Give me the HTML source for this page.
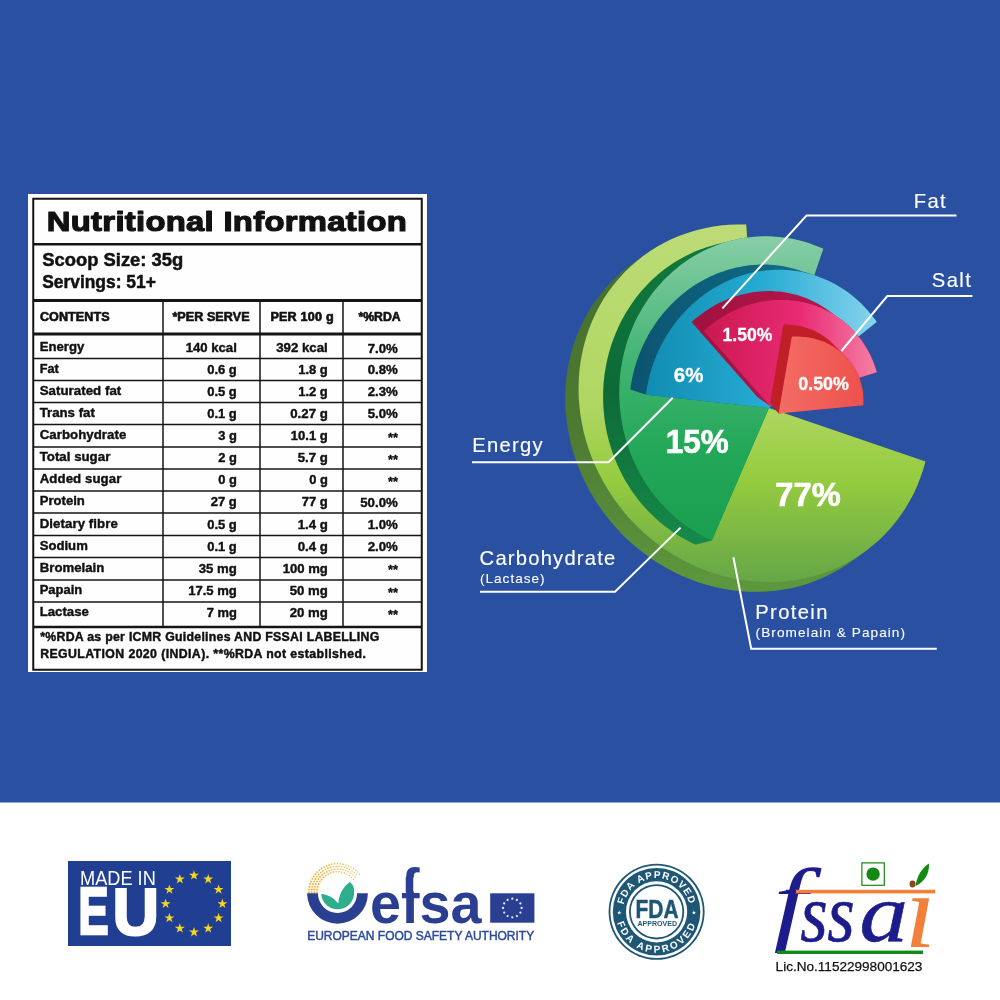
<!DOCTYPE html>
<html lang="en"><head><meta charset="utf-8"><title>Nutritional Information</title>
<style>
html,body{margin:0;padding:0;background:#fff;}
body{width:1000px;height:1000px;overflow:hidden;position:relative;font-family:"Liberation Sans",sans-serif;}
svg{position:absolute;left:0;top:0;display:block}
text{font-family:"Liberation Sans",sans-serif}
.b{font-weight:bold}
</style></head><body>
<svg width="1000" height="1000" viewBox="0 0 1000 1000">
<rect x="0" y="0" width="1000" height="802.5" fill="#2a51a1"/>
<rect x="28" y="194" width="399" height="478" fill="#fff"/>
<rect x="33.25" y="198.75" width="388.5" height="471" fill="#fefefe" stroke="#151515" stroke-width="2"/>
<line x1="33" y1="244.2" x2="422" y2="244.2" stroke="#151515" stroke-width="2.5"/>
<line x1="33" y1="300.5" x2="422" y2="300.5" stroke="#151515" stroke-width="2.8"/>
<line x1="33" y1="334" x2="422" y2="334" stroke="#151515" stroke-width="2.8"/>
<line x1="33" y1="627" x2="422" y2="627" stroke="#151515" stroke-width="2.6"/>
<line x1="33" y1="358.5" x2="422" y2="358.5" stroke="#151515" stroke-width="1.35"/>
<line x1="33" y1="380.5" x2="422" y2="380.5" stroke="#151515" stroke-width="1.35"/>
<line x1="33" y1="402.5" x2="422" y2="402.5" stroke="#151515" stroke-width="1.35"/>
<line x1="33" y1="424.5" x2="422" y2="424.5" stroke="#151515" stroke-width="1.35"/>
<line x1="33" y1="447" x2="422" y2="447" stroke="#151515" stroke-width="1.35"/>
<line x1="33" y1="469" x2="422" y2="469" stroke="#151515" stroke-width="1.35"/>
<line x1="33" y1="491" x2="422" y2="491" stroke="#151515" stroke-width="1.35"/>
<line x1="33" y1="513" x2="422" y2="513" stroke="#151515" stroke-width="1.35"/>
<line x1="33" y1="535.5" x2="422" y2="535.5" stroke="#151515" stroke-width="1.35"/>
<line x1="33" y1="557.5" x2="422" y2="557.5" stroke="#151515" stroke-width="1.35"/>
<line x1="33" y1="580" x2="422" y2="580" stroke="#151515" stroke-width="1.35"/>
<line x1="33" y1="602" x2="422" y2="602" stroke="#151515" stroke-width="1.35"/>
<line x1="163" y1="300.5" x2="163" y2="627" stroke="#151515" stroke-width="1.5"/>
<line x1="260" y1="300.5" x2="260" y2="627" stroke="#151515" stroke-width="1.5"/>
<line x1="343" y1="300.5" x2="343" y2="627" stroke="#151515" stroke-width="1.5"/>
<text transform="translate(46.8,230.7) scale(1.18,1)" font-size="27.8" font-weight="bold" fill="#111" textLength="305.08" lengthAdjust="spacing" stroke="#111" stroke-width="1.2" stroke-linejoin="round">Nutritional Information</text>
<text transform="translate(42.2,265.7) scale(1.08,1)" font-size="18.0" font-weight="bold" fill="#111" textLength="130.65" lengthAdjust="spacingAndGlyphs" stroke="#111" stroke-width="0.5" stroke-linejoin="round">Scoop Size: 35g</text>
<text transform="translate(42.2,287.8) scale(1.08,1)" font-size="18.0" font-weight="bold" fill="#111" textLength="105.19" lengthAdjust="spacingAndGlyphs" stroke="#111" stroke-width="0.5" stroke-linejoin="round">Servings: 51+</text>
<text transform="translate(39.9,321.3) scale(1.06,1)" font-size="11.9" font-weight="bold" fill="#111" textLength="65.75" lengthAdjust="spacing" stroke="#111" stroke-width="0.6" stroke-linejoin="round">CONTENTS</text>
<text transform="translate(172.4,321.3) scale(1.06,1)" font-size="11.9" font-weight="bold" fill="#111" textLength="72.83" lengthAdjust="spacing" stroke="#111" stroke-width="0.6" stroke-linejoin="round">*PER SERVE</text>
<text transform="translate(270.4,321.3) scale(1.06,1)" font-size="11.9" font-weight="bold" fill="#111" textLength="59.62" lengthAdjust="spacing" stroke="#111" stroke-width="0.6" stroke-linejoin="round">PER 100 g</text>
<text transform="translate(358.4,321.3) scale(1.06,1)" font-size="11.9" font-weight="bold" fill="#111" textLength="39.81" lengthAdjust="spacingAndGlyphs" stroke="#111" stroke-width="0.6" stroke-linejoin="round">*%RDA</text>
<text transform="translate(39.7,351.4) scale(1.06,1)" font-size="12.5" font-weight="bold" fill="#111" textLength="42.08" lengthAdjust="spacingAndGlyphs" stroke="#111" stroke-width="0.4" stroke-linejoin="round">Energy</text>
<text transform="translate(185.7,352.0) scale(1.06,1)" font-size="12.5" font-weight="bold" fill="#111" textLength="48.21" lengthAdjust="spacingAndGlyphs" stroke="#111" stroke-width="0.4" stroke-linejoin="round">140 kcal</text>
<text transform="translate(276.2,352.29999999999995) scale(1.06,1)" font-size="12.5" font-weight="bold" fill="#111" textLength="48.68" lengthAdjust="spacing" stroke="#111" stroke-width="0.4" stroke-linejoin="round">392 kcal</text>
<text transform="translate(367.7,352.9) scale(1.06,1)" font-size="12.5" font-weight="bold" fill="#111" textLength="28.40" lengthAdjust="spacingAndGlyphs" stroke="#111" stroke-width="0.4" stroke-linejoin="round">7.0%</text>
<text transform="translate(39.7,372.9) scale(1.06,1)" font-size="12.5" font-weight="bold" fill="#111" textLength="18.02" lengthAdjust="spacingAndGlyphs" stroke="#111" stroke-width="0.4" stroke-linejoin="round">Fat</text>
<text transform="translate(207.2,373.5) scale(1.06,1)" font-size="12.5" font-weight="bold" fill="#111" textLength="27.92" lengthAdjust="spacingAndGlyphs" stroke="#111" stroke-width="0.4" stroke-linejoin="round">0.6 g</text>
<text transform="translate(298.2,373.79999999999995) scale(1.06,1)" font-size="12.5" font-weight="bold" fill="#111" textLength="27.92" lengthAdjust="spacingAndGlyphs" stroke="#111" stroke-width="0.4" stroke-linejoin="round">1.8 g</text>
<text transform="translate(367.7,374.4) scale(1.06,1)" font-size="12.5" font-weight="bold" fill="#111" textLength="28.40" lengthAdjust="spacingAndGlyphs" stroke="#111" stroke-width="0.4" stroke-linejoin="round">0.8%</text>
<text transform="translate(39.7,394.9) scale(1.06,1)" font-size="12.5" font-weight="bold" fill="#111" textLength="76.98" lengthAdjust="spacing" stroke="#111" stroke-width="0.4" stroke-linejoin="round">Saturated fat</text>
<text transform="translate(207.2,395.5) scale(1.06,1)" font-size="12.5" font-weight="bold" fill="#111" textLength="27.92" lengthAdjust="spacingAndGlyphs" stroke="#111" stroke-width="0.4" stroke-linejoin="round">0.5 g</text>
<text transform="translate(298.2,395.79999999999995) scale(1.06,1)" font-size="12.5" font-weight="bold" fill="#111" textLength="27.92" lengthAdjust="spacingAndGlyphs" stroke="#111" stroke-width="0.4" stroke-linejoin="round">1.2 g</text>
<text transform="translate(367.7,396.4) scale(1.06,1)" font-size="12.5" font-weight="bold" fill="#111" textLength="28.40" lengthAdjust="spacingAndGlyphs" stroke="#111" stroke-width="0.4" stroke-linejoin="round">2.3%</text>
<text transform="translate(39.7,416.9) scale(1.06,1)" font-size="12.5" font-weight="bold" fill="#111" textLength="51.98" lengthAdjust="spacingAndGlyphs" stroke="#111" stroke-width="0.4" stroke-linejoin="round">Trans fat</text>
<text transform="translate(207.2,417.5) scale(1.06,1)" font-size="12.5" font-weight="bold" fill="#111" textLength="27.92" lengthAdjust="spacingAndGlyphs" stroke="#111" stroke-width="0.4" stroke-linejoin="round">0.1 g</text>
<text transform="translate(290.2,417.79999999999995) scale(1.06,1)" font-size="12.5" font-weight="bold" fill="#111" textLength="35.47" lengthAdjust="spacing" stroke="#111" stroke-width="0.4" stroke-linejoin="round">0.27 g</text>
<text transform="translate(367.7,418.4) scale(1.06,1)" font-size="12.5" font-weight="bold" fill="#111" textLength="28.40" lengthAdjust="spacingAndGlyphs" stroke="#111" stroke-width="0.4" stroke-linejoin="round">5.0%</text>
<text transform="translate(39.7,439.4) scale(1.06,1)" font-size="12.5" font-weight="bold" fill="#111" textLength="81.70" lengthAdjust="spacing" stroke="#111" stroke-width="0.4" stroke-linejoin="round">Carbohydrate</text>
<text transform="translate(218.2,440.0) scale(1.06,1)" font-size="12.5" font-weight="bold" fill="#111" textLength="17.55" lengthAdjust="spacingAndGlyphs" stroke="#111" stroke-width="0.4" stroke-linejoin="round">3 g</text>
<text transform="translate(290.7,440.29999999999995) scale(1.06,1)" font-size="12.5" font-weight="bold" fill="#111" textLength="35.00" lengthAdjust="spacingAndGlyphs" stroke="#111" stroke-width="0.4" stroke-linejoin="round">10.1 g</text>
<text transform="translate(388,441.59999999999997) scale(1.06,1)" font-size="13.5" font-weight="bold" fill="#111" textLength="9.43" lengthAdjust="spacingAndGlyphs" stroke="#111" stroke-width="0.4" stroke-linejoin="round">**</text>
<text transform="translate(39.7,461.4) scale(1.06,1)" font-size="12.5" font-weight="bold" fill="#111" textLength="66.60" lengthAdjust="spacing" stroke="#111" stroke-width="0.4" stroke-linejoin="round">Total sugar</text>
<text transform="translate(218.2,462.0) scale(1.06,1)" font-size="12.5" font-weight="bold" fill="#111" textLength="17.55" lengthAdjust="spacingAndGlyphs" stroke="#111" stroke-width="0.4" stroke-linejoin="round">2 g</text>
<text transform="translate(297.7,462.29999999999995) scale(1.06,1)" font-size="12.5" font-weight="bold" fill="#111" textLength="28.40" lengthAdjust="spacingAndGlyphs" stroke="#111" stroke-width="0.4" stroke-linejoin="round">5.7 g</text>
<text transform="translate(388,463.59999999999997) scale(1.06,1)" font-size="13.5" font-weight="bold" fill="#111" textLength="9.43" lengthAdjust="spacingAndGlyphs" stroke="#111" stroke-width="0.4" stroke-linejoin="round">**</text>
<text transform="translate(39.7,483.4) scale(1.06,1)" font-size="12.5" font-weight="bold" fill="#111" textLength="76.98" lengthAdjust="spacing" stroke="#111" stroke-width="0.4" stroke-linejoin="round">Added sugar</text>
<text transform="translate(218.2,484.0) scale(1.06,1)" font-size="12.5" font-weight="bold" fill="#111" textLength="17.55" lengthAdjust="spacingAndGlyphs" stroke="#111" stroke-width="0.4" stroke-linejoin="round">0 g</text>
<text transform="translate(309.2,484.29999999999995) scale(1.06,1)" font-size="12.5" font-weight="bold" fill="#111" textLength="17.55" lengthAdjust="spacingAndGlyphs" stroke="#111" stroke-width="0.4" stroke-linejoin="round">0 g</text>
<text transform="translate(388,485.59999999999997) scale(1.06,1)" font-size="13.5" font-weight="bold" fill="#111" textLength="9.43" lengthAdjust="spacingAndGlyphs" stroke="#111" stroke-width="0.4" stroke-linejoin="round">**</text>
<text transform="translate(39.7,505.4) scale(1.06,1)" font-size="12.5" font-weight="bold" fill="#111" textLength="42.55" lengthAdjust="spacingAndGlyphs" stroke="#111" stroke-width="0.4" stroke-linejoin="round">Protein</text>
<text transform="translate(210.7,506.0) scale(1.06,1)" font-size="12.5" font-weight="bold" fill="#111" textLength="24.62" lengthAdjust="spacingAndGlyphs" stroke="#111" stroke-width="0.4" stroke-linejoin="round">27 g</text>
<text transform="translate(301.7,506.29999999999995) scale(1.06,1)" font-size="12.5" font-weight="bold" fill="#111" textLength="24.62" lengthAdjust="spacingAndGlyphs" stroke="#111" stroke-width="0.4" stroke-linejoin="round">77 g</text>
<text transform="translate(360.2,506.9) scale(1.06,1)" font-size="12.5" font-weight="bold" fill="#111" textLength="35.47" lengthAdjust="spacing" stroke="#111" stroke-width="0.4" stroke-linejoin="round">50.0%</text>
<text transform="translate(39.7,527.9) scale(1.06,1)" font-size="12.5" font-weight="bold" fill="#111" textLength="73.68" lengthAdjust="spacing" stroke="#111" stroke-width="0.4" stroke-linejoin="round">Dietary fibre</text>
<text transform="translate(207.2,528.5) scale(1.06,1)" font-size="12.5" font-weight="bold" fill="#111" textLength="27.92" lengthAdjust="spacingAndGlyphs" stroke="#111" stroke-width="0.4" stroke-linejoin="round">0.5 g</text>
<text transform="translate(297.7,528.8) scale(1.06,1)" font-size="12.5" font-weight="bold" fill="#111" textLength="28.40" lengthAdjust="spacingAndGlyphs" stroke="#111" stroke-width="0.4" stroke-linejoin="round">1.4 g</text>
<text transform="translate(367.7,529.4) scale(1.06,1)" font-size="12.5" font-weight="bold" fill="#111" textLength="28.40" lengthAdjust="spacingAndGlyphs" stroke="#111" stroke-width="0.4" stroke-linejoin="round">1.0%</text>
<text transform="translate(39.7,549.9) scale(1.06,1)" font-size="12.5" font-weight="bold" fill="#111" textLength="45.38" lengthAdjust="spacingAndGlyphs" stroke="#111" stroke-width="0.4" stroke-linejoin="round">Sodium</text>
<text transform="translate(207.2,550.5) scale(1.06,1)" font-size="12.5" font-weight="bold" fill="#111" textLength="27.92" lengthAdjust="spacingAndGlyphs" stroke="#111" stroke-width="0.4" stroke-linejoin="round">0.1 g</text>
<text transform="translate(297.7,550.8) scale(1.06,1)" font-size="12.5" font-weight="bold" fill="#111" textLength="28.40" lengthAdjust="spacingAndGlyphs" stroke="#111" stroke-width="0.4" stroke-linejoin="round">0.4 g</text>
<text transform="translate(367.7,551.4) scale(1.06,1)" font-size="12.5" font-weight="bold" fill="#111" textLength="28.40" lengthAdjust="spacingAndGlyphs" stroke="#111" stroke-width="0.4" stroke-linejoin="round">2.0%</text>
<text transform="translate(39.7,571.9) scale(1.06,1)" font-size="12.5" font-weight="bold" fill="#111" textLength="60.94" lengthAdjust="spacingAndGlyphs" stroke="#111" stroke-width="0.4" stroke-linejoin="round">Bromelain</text>
<text transform="translate(198.7,572.5) scale(1.06,1)" font-size="12.5" font-weight="bold" fill="#111" textLength="35.94" lengthAdjust="spacingAndGlyphs" stroke="#111" stroke-width="0.4" stroke-linejoin="round">35 mg</text>
<text transform="translate(282.7,572.8) scale(1.06,1)" font-size="12.5" font-weight="bold" fill="#111" textLength="42.55" lengthAdjust="spacingAndGlyphs" stroke="#111" stroke-width="0.4" stroke-linejoin="round">100 mg</text>
<text transform="translate(388,574.1) scale(1.06,1)" font-size="13.5" font-weight="bold" fill="#111" textLength="9.43" lengthAdjust="spacingAndGlyphs" stroke="#111" stroke-width="0.4" stroke-linejoin="round">**</text>
<text transform="translate(39.7,594.4) scale(1.06,1)" font-size="12.5" font-weight="bold" fill="#111" textLength="40.19" lengthAdjust="spacingAndGlyphs" stroke="#111" stroke-width="0.4" stroke-linejoin="round">Papain</text>
<text transform="translate(188.2,595.0) scale(1.06,1)" font-size="12.5" font-weight="bold" fill="#111" textLength="45.85" lengthAdjust="spacingAndGlyphs" stroke="#111" stroke-width="0.4" stroke-linejoin="round">17.5 mg</text>
<text transform="translate(289.7,595.3) scale(1.06,1)" font-size="12.5" font-weight="bold" fill="#111" textLength="35.94" lengthAdjust="spacingAndGlyphs" stroke="#111" stroke-width="0.4" stroke-linejoin="round">50 mg</text>
<text transform="translate(388,596.6) scale(1.06,1)" font-size="13.5" font-weight="bold" fill="#111" textLength="9.43" lengthAdjust="spacingAndGlyphs" stroke="#111" stroke-width="0.4" stroke-linejoin="round">**</text>
<text transform="translate(39.7,616.4) scale(1.06,1)" font-size="12.5" font-weight="bold" fill="#111" textLength="46.32" lengthAdjust="spacingAndGlyphs" stroke="#111" stroke-width="0.4" stroke-linejoin="round">Lactase</text>
<text transform="translate(206.7,617.0) scale(1.06,1)" font-size="12.5" font-weight="bold" fill="#111" textLength="28.40" lengthAdjust="spacingAndGlyphs" stroke="#111" stroke-width="0.4" stroke-linejoin="round">7 mg</text>
<text transform="translate(289.7,617.3) scale(1.06,1)" font-size="12.5" font-weight="bold" fill="#111" textLength="35.94" lengthAdjust="spacingAndGlyphs" stroke="#111" stroke-width="0.4" stroke-linejoin="round">20 mg</text>
<text transform="translate(388,618.6) scale(1.06,1)" font-size="13.5" font-weight="bold" fill="#111" textLength="9.43" lengthAdjust="spacingAndGlyphs" stroke="#111" stroke-width="0.4" stroke-linejoin="round">**</text>
<text x="40.2" y="641.2" font-size="12.3" font-weight="bold" fill="#111" textLength="339.10" lengthAdjust="spacing" stroke="#111" stroke-width="0.45" stroke-linejoin="round">*%RDA as per ICMR Guidelines AND FSSAI LABELLING</text>
<text x="40.2" y="657.6" font-size="12.3" font-weight="bold" fill="#111" textLength="325.60" lengthAdjust="spacing" stroke="#111" stroke-width="0.45" stroke-linejoin="round">REGULATION 2020 (INDIA). **%RDA not established.</text>
<defs>
<linearGradient id="gLG" gradientUnits="userSpaceOnUse" x1="0" y1="224" x2="0" y2="582">
<stop offset="0" stop-color="#bddb77"/><stop offset="0.5" stop-color="#b0d762"/><stop offset="0.72" stop-color="#94cb3f"/><stop offset="1" stop-color="#66a647"/></linearGradient>
<linearGradient id="gLGs" gradientUnits="userSpaceOnUse" x1="0" y1="260" x2="0" y2="592">
<stop offset="0" stop-color="#466f2e"/><stop offset="0.5" stop-color="#4d7a32"/><stop offset="1" stop-color="#5e983d"/></linearGradient>
<linearGradient id="gGR" gradientUnits="userSpaceOnUse" x1="0" y1="236" x2="0" y2="540">
<stop offset="0" stop-color="#88cea8"/><stop offset="0.2" stop-color="#66c18d"/><stop offset="0.42" stop-color="#40b471"/><stop offset="0.72" stop-color="#22a757"/><stop offset="1" stop-color="#1a9f50"/></linearGradient>
<linearGradient id="gGRs" gradientUnits="userSpaceOnUse" x1="0" y1="240" x2="0" y2="545">
<stop offset="0" stop-color="#0f7a3d"/><stop offset="0.5" stop-color="#0d6a37"/><stop offset="1" stop-color="#168a4a"/></linearGradient>
<linearGradient id="gBL" gradientUnits="userSpaceOnUse" x1="640" y1="0" x2="880" y2="0">
<stop offset="0" stop-color="#0f8bb0"/><stop offset="0.5" stop-color="#25aad2"/><stop offset="1" stop-color="#8ad5ef"/></linearGradient>
<linearGradient id="gBLs" gradientUnits="userSpaceOnUse" x1="630" y1="0" x2="800" y2="0">
<stop offset="0" stop-color="#0c5371"/><stop offset="1" stop-color="#0e6f88"/></linearGradient>
<linearGradient id="gMG" gradientUnits="userSpaceOnUse" x1="700" y1="0" x2="880" y2="0">
<stop offset="0" stop-color="#c9184f"/><stop offset="0.55" stop-color="#e92a73"/><stop offset="1" stop-color="#f583a6"/></linearGradient>
<linearGradient id="gMGs" gradientUnits="userSpaceOnUse" x1="690" y1="0" x2="830" y2="0">
<stop offset="0" stop-color="#a01240"/><stop offset="1" stop-color="#b5164c"/></linearGradient>
<linearGradient id="gRD" gradientUnits="userSpaceOnUse" x1="780" y1="0" x2="865" y2="0">
<stop offset="0" stop-color="#f36c63"/><stop offset="1" stop-color="#ee504d"/></linearGradient>
</defs>
<path d="M575.6,338.8 572.9,346.8 570.6,355.1 568.7,363.5 567.2,371.9 566.1,380.5 565.5,389.2 565.2,397.9 565.4,406.7 566.1,415.5 567.1,424.2 568.6,433.0 570.4,441.7 572.7,450.3 575.4,458.8 578.5,467.3 582.0,475.5 585.9,483.7 590.1,491.7 594.7,499.4 599.7,507.0 605.0,514.4 610.6,521.5 616.5,528.3 622.8,534.9 629.3,541.2 636.1,547.1 643.2,552.8 650.4,558.1 657.9,563.0 665.7,567.6 673.5,571.8 681.6,575.7 689.8,579.1 698.1,582.2 706.5,584.8 715.0,587.0 723.6,588.8 732.2,590.2 740.9,591.2 749.5,591.7 758.1,591.8 766.7,591.5 775.2,590.7 783.7,589.5 792.0,587.9 800.2,585.9 808.3,583.4 816.2,580.6 823.9,577.3 831.5,573.6 838.8,569.6 845.9,565.2 852.7,560.4 866.0,550.8 872.5,545.6 878.8,540.2 884.8,534.3 890.5,528.2 895.8,521.8 900.8,515.1 905.5,508.1 909.7,500.8 913.7,493.4 917.2,485.7 920.3,477.8 923.1,469.7 925.4,461.5 769.0,408.0 747.3,240.0 746.2,224.5 737.6,224.4 729.0,224.7 720.5,225.5 712.1,226.7 703.7,228.4 695.5,230.4 687.5,232.9 679.6,235.8 671.8,239.0 664.3,242.7 657.0,246.8 649.9,251.2 643.1,256.0 629.8,265.6 623.3,270.8 617.0,276.3 611.0,282.1 605.4,288.3 600.1,294.7 595.1,301.4 590.4,308.4 586.2,315.7 582.3,323.2 578.8,330.9ZM924.7,461.9 922.5,469.5 919.8,477.6 916.6,485.4 913.1,493.1 909.2,500.5 905.0,507.7 900.3,514.7 895.3,521.4 890.0,527.8 884.4,533.9 878.4,539.7 872.2,545.2 865.6,550.3 858.8,555.1 851.8,559.5 844.5,563.5 837.0,567.2 829.3,570.4 821.4,573.3 813.4,575.7 805.2,577.7 796.9,579.3 788.5,580.5 780.0,581.3 771.4,581.6 762.8,581.5 754.2,581.0 745.6,580.0 737.0,578.7 728.5,576.8 720.0,574.6 711.6,572.0 703.3,569.0 695.1,565.5 687.1,561.7 679.2,557.5 671.6,552.9 664.1,548.0 656.8,542.7 649.8,537.1 643.0,531.1 636.5,524.9 630.3,518.3 624.4,511.5 618.7,504.4 613.5,497.1 608.5,489.5 603.9,481.8 599.7,473.8 595.8,465.7 592.4,457.4 589.3,449.0 586.6,440.5 584.3,431.9 582.4,423.3 581.0,414.5 580.0,405.8 579.3,397.1 579.1,388.3 579.4,379.6 580.0,371.0 581.1,362.4 582.6,354.0 584.5,345.6 586.8,337.4 589.5,329.4 592.6,321.5 596.1,313.8 600.0,306.4 604.3,299.2 608.9,292.2 613.8,285.5 619.1,279.1 624.8,272.9 630.7,267.1 637.0,261.7 643.5,256.5 650.3,251.7 657.3,247.3 664.6,243.3 672.1,239.6 679.8,236.3 687.7,233.5 695.7,231.0 703.9,228.9 712.2,227.3 720.6,226.1 729.1,225.3 737.6,225.0 745.7,225.1 746.7,240.0 746.7,240.1 768.4,408.1 768.4,408.1 768.4,408.2 768.5,408.3 768.5,408.3 768.5,408.4 768.6,408.4 768.6,408.4 768.6,408.5 768.7,408.5 768.7,408.5 768.8,408.6Z" fill="url(#gLGs)"/>
<path d="M769.0,408.0 747.3,240.0 746.2,224.5 737.6,224.4 729.0,224.7 720.5,225.5 712.1,226.7 703.7,228.4 695.5,230.4 687.5,232.9 679.6,235.8 671.8,239.0 664.3,242.7 657.0,246.8 649.9,251.2 643.1,256.0 636.6,261.2 630.3,266.7 624.3,272.5 618.7,278.7 613.4,285.1 608.4,291.8 603.7,298.8 599.5,306.1 595.6,313.6 592.1,321.3 588.9,329.2 586.2,337.2 583.9,345.5 582.0,353.9 580.5,362.3 579.4,370.9 578.8,379.6 578.5,388.3 578.7,397.1 579.4,405.9 580.4,414.6 581.9,423.4 583.7,432.1 586.0,440.7 588.7,449.2 591.8,457.7 595.3,465.9 599.2,474.1 603.4,482.1 608.0,489.8 613.0,497.4 618.3,504.8 623.9,511.9 629.8,518.7 636.1,525.3 642.6,531.6 649.4,537.5 656.5,543.2 663.7,548.5 671.2,553.4 679.0,558.0 686.8,562.2 694.9,566.1 703.1,569.5 711.4,572.6 719.8,575.2 728.3,577.4 736.9,579.2 745.5,580.6 754.2,581.6 762.8,582.1 771.4,582.2 780.0,581.9 788.5,581.1 797.0,579.9 805.3,578.3 813.5,576.3 821.6,573.8 829.5,571.0 837.2,567.7 844.8,564.0 852.1,560.0 859.2,555.6 866.0,550.8 872.5,545.6 878.8,540.2 884.8,534.3 890.5,528.2 895.8,521.8 900.8,515.1 905.5,508.1 909.7,500.8 913.7,493.4 917.2,485.7 920.3,477.8 923.1,469.7 925.4,461.5Z" fill="url(#gLG)"/>
<path d="M607.5,358.4 606.4,363.8 605.4,369.2 604.5,374.6 603.9,380.1 603.4,385.6 603.2,391.1 603.1,396.7 603.2,402.2 603.4,407.7 603.9,413.2 604.5,418.7 605.3,424.2 606.3,429.7 607.4,435.1 608.8,440.4 610.3,445.7 612.0,451.0 613.8,456.2 615.8,461.3 618.0,466.3 620.4,471.3 622.9,476.2 625.5,480.9 628.4,485.6 631.3,490.2 634.4,494.6 637.7,499.0 641.1,503.2 644.6,507.3 648.3,511.2 652.1,515.0 656.0,518.7 660.0,522.2 664.1,525.6 668.4,528.8 672.7,531.9 677.2,534.8 681.7,537.5 686.3,540.1 691.0,542.5 695.7,544.7 711.9,540.5 769.0,408.0 823.3,248.8 818.5,246.7 813.6,244.9 808.7,243.1 803.7,241.6 798.7,240.3 793.6,239.1 788.5,238.2 783.4,237.4 778.2,236.9 773.0,236.5 767.9,236.3 762.7,236.3 757.5,236.5 752.4,236.9 747.2,237.5 742.1,238.3 737.0,239.2 732.0,240.4 715.8,244.6 710.8,245.9 705.8,247.5 700.9,249.2 696.1,251.1 691.3,253.2 686.6,255.4 682.0,257.9 677.5,260.5 673.0,263.3 668.7,266.2 664.4,269.3 660.3,272.6 656.3,276.0 652.4,279.6 648.6,283.3 644.9,287.2 641.4,291.1 637.9,295.3 634.7,299.5 631.6,303.9 628.6,308.4 625.7,313.0 623.1,317.7 620.5,322.5 618.2,327.4 616.0,332.4 614.0,337.4 612.1,342.6 610.4,347.8 608.9,353.1ZM711.6,539.7 707.4,537.7 702.8,535.3 698.2,532.8 693.7,530.1 689.3,527.2 684.9,524.1 680.7,520.9 676.6,517.6 672.6,514.1 668.7,510.4 664.9,506.6 661.3,502.7 657.8,498.6 654.4,494.4 651.1,490.1 648.0,485.6 645.1,481.1 642.3,476.4 639.6,471.7 637.1,466.8 634.8,461.9 632.6,456.9 630.6,451.8 628.7,446.6 627.1,441.4 625.6,436.1 624.2,430.7 623.1,425.4 622.1,419.9 621.3,414.5 620.7,409.0 620.2,403.5 620.0,398.0 619.9,392.5 620.0,387.0 620.2,381.5 620.7,376.0 621.3,370.5 622.2,365.1 623.1,359.7 624.3,354.3 625.7,349.0 627.2,343.8 628.9,338.6 630.7,333.4 632.7,328.4 634.9,323.4 637.3,318.6 639.8,313.8 642.5,309.1 645.3,304.5 648.2,300.0 651.4,295.7 654.6,291.4 658.0,287.3 661.5,283.4 665.2,279.5 669.0,275.8 672.9,272.3 676.9,268.9 681.0,265.6 685.2,262.5 689.6,259.6 694.0,256.8 698.5,254.2 703.1,251.8 707.8,249.5 712.5,247.5 717.4,245.6 722.2,243.8 727.2,242.3 732.1,241.0 737.2,239.8 742.2,238.8 747.3,238.1 752.4,237.5 757.6,237.1 762.7,236.9 767.9,236.9 773.0,237.1 778.1,237.4 783.3,238.0 788.4,238.8 793.5,239.7 798.5,240.9 803.5,242.2 808.5,243.7 813.4,245.4 818.3,247.3 822.6,249.1 768.4,407.8Z" fill="url(#gGRs)"/>
<path d="M769.0,408.0 823.3,248.8 818.5,246.7 813.6,244.9 808.7,243.1 803.7,241.6 798.7,240.3 793.6,239.1 788.5,238.2 783.4,237.4 778.2,236.9 773.0,236.5 767.9,236.3 762.7,236.3 757.5,236.5 752.4,236.9 747.2,237.5 742.1,238.3 737.0,239.2 732.0,240.4 727.0,241.7 722.0,243.3 717.1,245.0 712.3,246.9 707.5,249.0 702.8,251.2 698.2,253.7 693.7,256.3 689.2,259.1 684.9,262.0 680.6,265.1 676.5,268.4 672.5,271.8 668.6,275.4 664.8,279.1 661.1,283.0 657.6,286.9 654.1,291.1 650.9,295.3 647.8,299.7 644.8,304.2 641.9,308.8 639.3,313.5 636.7,318.3 634.4,323.2 632.2,328.2 630.2,333.2 628.3,338.4 626.6,343.6 625.1,348.9 623.7,354.2 622.6,359.6 621.6,365.0 620.7,370.4 620.1,375.9 619.6,381.4 619.4,386.9 619.3,392.5 619.4,398.0 619.6,403.5 620.1,409.0 620.7,414.5 621.5,420.0 622.5,425.5 623.6,430.9 625.0,436.2 626.5,441.5 628.2,446.8 630.0,452.0 632.0,457.1 634.2,462.1 636.6,467.1 639.1,472.0 641.7,476.7 644.6,481.4 647.5,486.0 650.6,490.4 653.9,494.8 657.3,499.0 660.8,503.1 664.5,507.0 668.3,510.8 672.2,514.5 676.2,518.0 680.3,521.4 684.6,524.6 688.9,527.7 693.4,530.6 697.9,533.3 702.5,535.9 707.2,538.3 711.9,540.5Z" fill="url(#gGR)"/>
<path d="M654.3,325.2 652.4,328.3 650.4,331.3 648.6,334.5 646.9,337.7 645.2,340.9 643.6,344.2 642.0,347.5 640.6,350.9 639.2,354.3 638.0,357.7 636.8,361.1 635.7,364.6 634.6,368.1 633.7,371.7 632.9,375.2 632.1,378.8 631.4,382.4 630.8,386.0 630.3,389.6 645.9,394.8 769.0,408.0 876.7,321.9 874.7,319.1 872.6,316.4 870.4,313.7 868.2,311.0 865.9,308.5 863.6,306.0 861.2,303.5 858.7,301.2 856.2,298.9 853.6,296.7 850.9,294.6 848.2,292.5 845.4,290.6 842.6,288.7 839.8,286.9 836.9,285.2 833.9,283.5 830.9,282.0 827.9,280.5 824.8,279.2 821.7,277.9 818.5,276.7 815.3,275.6 799.7,270.4 796.5,269.4 793.3,268.5 790.0,267.7 786.7,266.9 783.4,266.3 780.1,265.8 776.8,265.3 773.4,265.0 770.0,264.8 766.7,264.6 763.3,264.5 759.9,264.6 756.5,264.7 753.1,265.0 749.7,265.3 746.3,265.7 743.0,266.2 739.6,266.9 736.2,267.6 732.9,268.4 729.6,269.3 726.3,270.3 723.0,271.4 719.7,272.5 716.5,273.8 713.3,275.2 710.1,276.6 707.0,278.2 703.9,279.8 700.8,281.5 697.8,283.3 694.8,285.1 691.9,287.1 689.0,289.1 686.1,291.3 683.3,293.4 680.6,295.7 677.9,298.1 675.3,300.5 672.7,303.0 670.2,305.5 667.7,308.2 665.3,310.8 663.0,313.6 660.7,316.4 658.5,319.3 656.4,322.2ZM646.6,394.3 647.0,391.3 647.6,387.7 648.3,384.1 649.0,380.6 649.9,377.0 650.8,373.5 651.8,370.0 652.9,366.5 654.1,363.1 655.4,359.7 656.8,356.3 658.2,353.0 659.7,349.7 661.3,346.4 663.0,343.2 664.7,340.0 666.6,336.9 668.5,333.8 670.4,330.7 672.5,327.8 674.6,324.8 676.8,322.0 679.0,319.2 681.4,316.4 683.8,313.8 686.2,311.1 688.7,308.6 691.3,306.1 693.9,303.7 696.6,301.4 699.3,299.1 702.1,296.9 704.9,294.8 707.8,292.8 710.7,290.8 713.7,289.0 716.7,287.2 719.8,285.5 722.9,283.9 726.0,282.4 729.1,280.9 732.3,279.6 735.6,278.3 738.8,277.1 742.1,276.1 745.3,275.1 748.7,274.2 752.0,273.4 755.3,272.7 758.7,272.0 762.0,271.5 765.4,271.1 768.8,270.8 772.1,270.5 775.5,270.4 778.9,270.3 782.2,270.4 785.6,270.6 789.0,270.8 792.3,271.1 795.6,271.6 798.9,272.1 802.2,272.7 805.5,273.5 808.7,274.3 812.0,275.2 815.2,276.2 818.3,277.3 821.5,278.4 824.6,279.7 827.6,281.1 830.6,282.5 833.6,284.1 836.6,285.7 839.5,287.4 842.3,289.2 845.1,291.1 847.8,293.0 850.5,295.1 853.2,297.2 855.8,299.4 858.3,301.6 860.7,304.0 863.1,306.4 865.5,308.9 867.8,311.4 870.0,314.0 872.1,316.7 874.2,319.5 875.8,321.8 768.8,407.4Z" fill="url(#gBLs)"/>
<path d="M769.0,408.0 876.7,321.9 874.7,319.1 872.6,316.4 870.4,313.7 868.2,311.0 865.9,308.5 863.6,306.0 861.2,303.5 858.7,301.2 856.2,298.9 853.6,296.7 850.9,294.6 848.2,292.5 845.4,290.6 842.6,288.7 839.8,286.9 836.9,285.2 833.9,283.5 830.9,282.0 827.9,280.5 824.8,279.2 821.7,277.9 818.5,276.7 815.3,275.6 812.1,274.6 808.9,273.7 805.6,272.9 802.3,272.1 799.0,271.5 795.7,271.0 792.4,270.5 789.0,270.2 785.6,270.0 782.3,269.8 778.9,269.7 775.5,269.8 772.1,269.9 768.7,270.2 765.3,270.5 761.9,270.9 758.6,271.4 755.2,272.1 751.8,272.8 748.5,273.6 745.2,274.5 741.9,275.5 738.6,276.6 735.3,277.7 732.1,279.0 728.9,280.4 725.7,281.8 722.6,283.4 719.5,285.0 716.4,286.7 713.4,288.5 710.4,290.3 707.5,292.3 704.6,294.3 701.7,296.5 698.9,298.6 696.2,300.9 693.5,303.3 690.9,305.7 688.3,308.2 685.8,310.7 683.3,313.4 680.9,316.0 678.6,318.8 676.3,321.6 674.1,324.5 672.0,327.4 669.9,330.4 668.0,333.5 666.0,336.5 664.2,339.7 662.5,342.9 660.8,346.1 659.2,349.4 657.6,352.7 656.2,356.1 654.8,359.5 653.6,362.9 652.4,366.3 651.3,369.8 650.2,373.3 649.3,376.9 648.5,380.4 647.7,384.0 647.0,387.6 646.4,391.2 645.9,394.8Z" fill="url(#gBL)"/>
<path d="M729.2,298.6 726.9,299.5 724.7,300.5 722.4,301.5 720.2,302.5 718.0,303.6 715.8,304.8 713.6,306.0 711.5,307.2 709.4,308.5 707.3,309.9 705.2,311.3 703.2,312.7 701.2,314.2 699.2,315.7 697.2,317.2 695.3,318.8 693.4,320.5 691.5,322.1 757.6,397.2 770.0,406.0 876.8,372.3 876.1,370.0 875.4,367.7 874.6,365.5 873.8,363.3 873.0,361.1 872.0,358.9 871.1,356.8 870.1,354.6 869.0,352.5 867.9,350.5 866.7,348.4 865.5,346.4 864.3,344.5 863.0,342.5 861.7,340.6 860.3,338.7 858.9,336.9 857.4,335.1 855.9,333.3 854.3,331.6 852.8,329.9 851.1,328.3 849.5,326.6 847.8,325.1 846.0,323.6 844.3,322.1 842.5,320.6 840.6,319.2 838.8,317.9 826.4,309.1 824.4,307.8 822.5,306.5 820.5,305.3 818.6,304.1 816.5,303.0 814.5,301.9 812.4,300.9 810.3,299.9 808.2,299.0 806.0,298.1 803.8,297.3 801.7,296.5 799.4,295.8 797.2,295.1 795.0,294.5 792.7,293.9 790.4,293.4 788.1,292.9 785.8,292.5 783.5,292.1 781.1,291.8 778.8,291.6 776.4,291.4 774.1,291.2 771.7,291.1 769.3,291.1 766.9,291.1 764.6,291.2 762.2,291.3 759.8,291.5 757.4,291.7 755.0,292.0 752.6,292.3 750.3,292.7 747.9,293.2 745.5,293.7 743.2,294.2 740.8,294.8 738.5,295.5 736.1,296.2 733.8,296.9 731.5,297.8ZM832.6,313.8 832.6,313.8 832.6,313.8 832.6,313.8ZM704.8,331.0 706.2,329.7 708.1,328.1 710.0,326.5 711.9,324.9 713.9,323.4 715.9,322.0 718.0,320.6 720.0,319.2 722.1,317.8 724.2,316.6 726.3,315.3 728.5,314.1 730.7,313.0 732.9,311.9 735.1,310.8 737.3,309.8 739.6,308.9 741.8,308.0 744.1,307.1 746.4,306.3 748.7,305.6 751.0,304.9 753.4,304.2 755.7,303.6 758.0,303.1 760.4,302.6 762.8,302.1 765.1,301.7 767.5,301.4 769.9,301.1 772.2,300.9 774.6,300.7 777.0,300.6 779.4,300.5 781.7,300.5 784.1,300.5 786.4,300.6 788.8,300.8 791.1,301.0 793.5,301.2 795.8,301.5 798.1,301.9 800.4,302.3 802.7,302.8 804.9,303.3 807.2,303.8 809.4,304.5 811.7,305.1 813.9,305.9 816.0,306.6 818.2,307.4 820.3,308.3 822.4,309.2 824.5,310.2 826.6,311.2 828.6,312.3 830.7,313.4 832.6,314.6 834.6,315.8 836.5,317.1 838.4,318.4 840.3,319.7 842.1,321.1 843.9,322.5 845.6,324.0 847.4,325.5 849.1,327.1 850.7,328.7 852.3,330.3 853.9,332.0 855.4,333.7 856.9,335.5 858.4,337.3 859.8,339.1 861.2,341.0 862.5,342.9 863.8,344.8 865.0,346.8 866.2,348.7 867.4,350.8 868.5,352.8 869.5,354.9 870.5,357.0 871.5,359.1 872.4,361.3 873.3,363.5 874.1,365.7 874.8,367.9 875.6,370.2 876.1,371.9 770.2,405.3Z" fill="url(#gMGs)"/>
<path d="M770.0,406.0 876.8,372.3 876.1,370.0 875.4,367.7 874.6,365.5 873.8,363.3 873.0,361.1 872.0,358.9 871.1,356.8 870.1,354.6 869.0,352.5 867.9,350.5 866.7,348.4 865.5,346.4 864.3,344.5 863.0,342.5 861.7,340.6 860.3,338.7 858.9,336.9 857.4,335.1 855.9,333.3 854.3,331.6 852.8,329.9 851.1,328.3 849.5,326.6 847.8,325.1 846.0,323.6 844.3,322.1 842.5,320.6 840.6,319.2 838.8,317.9 836.8,316.6 834.9,315.3 832.9,314.1 831.0,312.9 828.9,311.8 826.9,310.7 824.8,309.7 822.7,308.7 820.6,307.8 818.4,306.9 816.2,306.1 814.1,305.3 811.8,304.6 809.6,303.9 807.4,303.3 805.1,302.7 802.8,302.2 800.5,301.7 798.2,301.3 795.9,300.9 793.5,300.6 791.2,300.4 788.8,300.2 786.5,300.0 784.1,299.9 781.7,299.9 779.3,299.9 777.0,300.0 774.6,300.1 772.2,300.3 769.8,300.5 767.4,300.8 765.0,301.1 762.7,301.5 760.3,302.0 757.9,302.5 755.6,303.0 753.2,303.6 750.9,304.3 748.5,305.0 746.2,305.7 743.9,306.6 741.6,307.4 739.3,308.3 737.1,309.3 734.8,310.3 732.6,311.3 730.4,312.4 728.2,313.6 726.0,314.8 723.9,316.0 721.8,317.3 719.7,318.7 717.6,320.1 715.6,321.5 713.6,323.0 711.6,324.5 709.6,326.0 707.7,327.6 705.8,329.3 703.9,330.9Z" fill="url(#gMG)"/>
<path d="M787.6,324.6 786.3,324.6 785.0,324.5 783.7,324.5 783.4,324.5 770.2,402.8 778.6,413.6 863.3,405.2 863.4,403.9 863.4,402.7 863.4,401.4 863.4,400.2 863.4,398.9 863.4,397.7 863.3,396.5 863.2,395.2 863.1,394.0 863.0,392.7 862.8,391.5 862.6,390.3 862.4,389.1 862.2,387.9 861.9,386.7 861.6,385.5 861.3,384.3 861.0,383.1 860.7,381.9 860.3,380.7 859.9,379.6 859.5,378.4 859.0,377.2 858.6,376.1 858.1,375.0 857.6,373.9 857.1,372.8 856.5,371.7 856.0,370.6 855.4,369.5 854.8,368.4 854.1,367.4 853.5,366.4 852.8,365.3 852.1,364.3 851.4,363.3 850.7,362.3 849.9,361.4 849.1,360.4 848.3,359.5 847.5,358.6 846.7,357.6 845.9,356.7 845.0,355.9 833.0,343.9 832.1,343.0 831.2,342.2 830.3,341.3 829.4,340.5 828.4,339.7 827.5,339.0 826.5,338.2 825.5,337.5 824.5,336.7 823.4,336.0 822.4,335.4 821.4,334.7 820.3,334.1 819.2,333.4 818.1,332.8 817.0,332.2 815.9,331.7 814.8,331.1 813.6,330.6 812.5,330.1 811.3,329.6 810.1,329.2 808.9,328.7 807.7,328.3 806.5,327.9 805.3,327.5 804.1,327.2 802.9,326.8 801.6,326.5 800.4,326.2 799.1,326.0 797.9,325.7 796.6,325.5 795.3,325.3 794.1,325.1 792.8,325.0 791.5,324.9 790.2,324.7 788.9,324.7ZM792.3,337.3 793.1,337.2 794.4,337.2 795.7,337.1 797.0,337.1 798.3,337.2 799.6,337.2 800.9,337.3 802.2,337.3 803.4,337.5 804.7,337.6 806.0,337.7 807.2,337.9 808.5,338.1 809.8,338.3 811.0,338.6 812.2,338.8 813.5,339.1 814.7,339.4 815.9,339.8 817.1,340.1 818.3,340.5 819.5,340.9 820.7,341.3 821.9,341.7 823.1,342.2 824.2,342.7 825.4,343.2 826.5,343.7 827.6,344.2 828.7,344.8 829.8,345.4 830.9,346.0 832.0,346.6 833.0,347.2 834.1,347.9 835.1,348.5 836.1,349.2 837.1,350.0 838.1,350.7 839.1,351.4 840.0,352.2 841.0,353.0 841.9,353.8 842.8,354.6 843.7,355.4 844.6,356.3 845.4,357.2 846.3,358.0 847.1,359.0 847.9,359.9 848.7,360.8 849.4,361.7 850.2,362.7 850.9,363.7 851.6,364.7 852.3,365.7 853.0,366.7 853.6,367.7 854.2,368.7 854.8,369.8 855.4,370.9 856.0,371.9 856.5,373.0 857.1,374.1 857.6,375.2 858.0,376.3 858.5,377.5 858.9,378.6 859.3,379.7 859.7,380.9 860.1,382.1 860.4,383.2 860.8,384.4 861.1,385.6 861.3,386.8 861.6,388.0 861.8,389.2 862.0,390.4 862.2,391.6 862.4,392.8 862.5,394.0 862.6,395.3 862.7,396.5 862.8,397.7 862.8,399.0 862.8,400.2 862.8,401.4 862.8,402.7 862.8,403.9 862.7,404.7 779.3,412.9Z" fill="#c01f27"/>
<path d="M778.6,413.6 863.3,405.2 863.4,403.9 863.4,402.7 863.4,401.4 863.4,400.2 863.4,398.9 863.4,397.7 863.3,396.5 863.2,395.2 863.1,394.0 863.0,392.7 862.8,391.5 862.6,390.3 862.4,389.1 862.2,387.9 861.9,386.7 861.6,385.5 861.3,384.3 861.0,383.1 860.7,381.9 860.3,380.7 859.9,379.6 859.5,378.4 859.0,377.2 858.6,376.1 858.1,375.0 857.6,373.9 857.1,372.8 856.5,371.7 856.0,370.6 855.4,369.5 854.8,368.4 854.1,367.4 853.5,366.4 852.8,365.3 852.1,364.3 851.4,363.3 850.7,362.3 849.9,361.4 849.1,360.4 848.3,359.5 847.5,358.6 846.7,357.6 845.9,356.7 845.0,355.9 844.1,355.0 843.2,354.2 842.3,353.3 841.4,352.5 840.4,351.7 839.5,351.0 838.5,350.2 837.5,349.5 836.5,348.7 835.4,348.0 834.4,347.4 833.4,346.7 832.3,346.1 831.2,345.4 830.1,344.8 829.0,344.2 827.9,343.7 826.8,343.1 825.6,342.6 824.5,342.1 823.3,341.6 822.1,341.2 820.9,340.7 819.7,340.3 818.5,339.9 817.3,339.5 816.1,339.2 814.9,338.8 813.6,338.5 812.4,338.2 811.1,338.0 809.9,337.7 808.6,337.5 807.3,337.3 806.1,337.1 804.8,337.0 803.5,336.9 802.2,336.7 800.9,336.7 799.6,336.6 798.3,336.6 797.0,336.5 795.7,336.5 794.4,336.6 793.1,336.6 791.8,336.7Z" fill="url(#gRD)"/>
<polyline points="956.5,215.5 806.5,215.5 722.4,308.4" fill="none" stroke="#fff" stroke-width="2" stroke-linejoin="miter"/>
<polyline points="972.4,296 887.3,296 841.4,351" fill="none" stroke="#fff" stroke-width="2" stroke-linejoin="miter"/>
<polyline points="472,462.2 608.5,462.2 672.8,397.8" fill="none" stroke="#fff" stroke-width="2" stroke-linejoin="miter"/>
<polyline points="480,591.7 615,591.7 680.6,527.6" fill="none" stroke="#fff" stroke-width="2" stroke-linejoin="miter"/>
<polyline points="936.8,648.8 751.2,648.8 733.4,557.2" fill="none" stroke="#fff" stroke-width="2" stroke-linejoin="miter"/>
<text x="913.8" y="208" font-size="20.2" fill="#fff" stroke="#fff" stroke-width="0.15" textLength="31.8" lengthAdjust="spacing">Fat</text>
<text x="931.8" y="287" font-size="20.2" fill="#fff" stroke="#fff" stroke-width="0.15" textLength="39.0" lengthAdjust="spacing">Salt</text>
<text x="472.3" y="451.8" font-size="20.2" fill="#fff" stroke="#fff" stroke-width="0.15" textLength="70.3" lengthAdjust="spacing">Energy</text>
<text x="479.6" y="564.8" font-size="20.2" fill="#fff" stroke="#fff" stroke-width="0.15" textLength="135.7" lengthAdjust="spacing">Carbohydrate</text>
<text x="480" y="583" font-size="13.6" fill="#fff" stroke="#fff" stroke-width="0.1" textLength="64.6" lengthAdjust="spacing">(Lactase)</text>
<text x="755.2" y="619" font-size="20.2" fill="#fff" stroke="#fff" stroke-width="0.15" textLength="72.2" lengthAdjust="spacing">Protein</text>
<text x="755.6" y="637.3" font-size="13.6" fill="#fff" stroke="#fff" stroke-width="0.1" textLength="149.4" lengthAdjust="spacing">(Bromelain &amp; Papain)</text>
<text x="775.3" y="506" font-size="33.6" fill="#fff" font-weight="bold" stroke="#fff" stroke-width="0.7" textLength="65.4" lengthAdjust="spacingAndGlyphs">77%</text>
<text x="665.8" y="453" font-size="33.6" fill="#fff" font-weight="bold" stroke="#fff" stroke-width="0.7" textLength="62.9" lengthAdjust="spacingAndGlyphs">15%</text>
<text x="673.8" y="381.6" font-size="20.2" fill="#fff" font-weight="bold" stroke="#fff" stroke-width="0.3" textLength="29.6" lengthAdjust="spacingAndGlyphs">6%</text>
<text x="722.5" y="341" font-size="17.8" fill="#fff" font-weight="bold" stroke="#fff" stroke-width="0.3" textLength="49.8" lengthAdjust="spacingAndGlyphs">1.50%</text>
<text x="798.3" y="389.6" font-size="17.8" fill="#fff" font-weight="bold" stroke="#fff" stroke-width="0.3" textLength="50.6" lengthAdjust="spacingAndGlyphs">0.50%</text>
<rect x="68" y="861" width="163" height="85" fill="#203f93"/>
<text x="80" y="884.8" font-size="19.3" fill="#fff" textLength="75.8" lengthAdjust="spacingAndGlyphs">MADE IN</text>
<text font-weight="bold" fill="#fff" stroke="#fff" stroke-linejoin="miter"><tspan x="78.3" y="934.4" font-size="66" textLength="30.5" lengthAdjust="spacingAndGlyphs" stroke-width="2.4">E</tspan><tspan x="112.4" y="934.6" font-size="66.5" textLength="46.6" lengthAdjust="spacingAndGlyphs" stroke-width="2.2">U</tspan></text>
<polygon points="194.00,870.20 195.17,873.79 198.95,873.79 195.89,876.01 197.06,879.61 194.00,877.39 190.94,879.61 192.11,876.01 189.05,873.79 192.83,873.79" fill="#f9d71c"/>
<polygon points="208.20,874.00 209.37,877.60 213.15,877.60 210.09,879.82 211.26,883.41 208.20,881.19 205.14,883.41 206.31,879.82 203.25,877.60 207.03,877.60" fill="#f9d71c"/>
<polygon points="218.60,884.40 219.76,887.99 223.54,887.99 220.48,890.21 221.65,893.81 218.60,891.59 215.54,893.81 216.71,890.21 213.65,887.99 217.43,887.99" fill="#f9d71c"/>
<polygon points="222.40,898.60 223.57,902.19 227.35,902.19 224.29,904.41 225.46,908.01 222.40,905.79 219.34,908.01 220.51,904.41 217.45,902.19 221.23,902.19" fill="#f9d71c"/>
<polygon points="218.60,912.80 219.76,916.39 223.54,916.39 220.48,918.61 221.65,922.21 218.60,919.99 215.54,922.21 216.71,918.61 213.65,916.39 217.43,916.39" fill="#f9d71c"/>
<polygon points="208.20,923.20 209.37,926.79 213.15,926.79 210.09,929.01 211.26,932.60 208.20,930.38 205.14,932.60 206.31,929.01 203.25,926.79 207.03,926.79" fill="#f9d71c"/>
<polygon points="194.00,927.00 195.17,930.59 198.95,930.59 195.89,932.81 197.06,936.41 194.00,934.19 190.94,936.41 192.11,932.81 189.05,930.59 192.83,930.59" fill="#f9d71c"/>
<polygon points="179.80,923.20 180.97,926.79 184.75,926.79 181.69,929.01 182.86,932.60 179.80,930.38 176.74,932.60 177.91,929.01 174.85,926.79 178.63,926.79" fill="#f9d71c"/>
<polygon points="169.40,912.80 170.57,916.39 174.35,916.39 171.29,918.61 172.46,922.21 169.40,919.99 166.35,922.21 167.52,918.61 164.46,916.39 168.24,916.39" fill="#f9d71c"/>
<polygon points="165.60,898.60 166.77,902.19 170.55,902.19 167.49,904.41 168.66,908.01 165.60,905.79 162.54,908.01 163.71,904.41 160.65,902.19 164.43,902.19" fill="#f9d71c"/>
<polygon points="169.40,884.40 170.57,887.99 174.35,887.99 171.29,890.21 172.46,893.81 169.40,891.59 166.35,893.81 167.52,890.21 164.46,887.99 168.24,887.99" fill="#f9d71c"/>
<polygon points="179.80,874.00 180.97,877.60 184.75,877.60 181.69,879.82 182.86,883.41 179.80,881.19 176.74,883.41 177.91,879.82 174.85,877.60 178.63,877.60" fill="#f9d71c"/>
<g fill="#f5b53a"><circle cx="317.0" cy="892.3" r="1.10"/><circle cx="317.2" cy="889.5" r="1.07"/><circle cx="317.8" cy="886.8" r="1.05"/><circle cx="318.7" cy="884.1" r="1.02"/><circle cx="320.0" cy="881.6" r="0.99"/><circle cx="321.6" cy="879.4" r="0.97"/><circle cx="323.5" cy="877.3" r="0.94"/><circle cx="325.7" cy="875.6" r="0.91"/><circle cx="328.1" cy="874.1" r="0.88"/><circle cx="330.6" cy="873.0" r="0.86"/><circle cx="333.3" cy="872.2" r="0.83"/><circle cx="336.1" cy="871.8" r="0.80"/><circle cx="338.9" cy="871.8" r="0.78"/><circle cx="341.7" cy="872.2" r="0.75"/><circle cx="344.4" cy="873.0" r="0.72"/><circle cx="346.9" cy="874.1" r="0.70"/><circle cx="349.3" cy="875.6" r="0.67"/><circle cx="351.5" cy="877.3" r="0.64"/><circle cx="353.4" cy="879.4" r="0.62"/><circle cx="314.3" cy="892.3" r="1.10"/><circle cx="314.5" cy="889.5" r="1.08"/><circle cx="315.0" cy="886.7" r="1.05"/><circle cx="315.8" cy="884.1" r="1.03"/><circle cx="317.0" cy="881.5" r="1.00"/><circle cx="318.4" cy="879.1" r="0.98"/><circle cx="320.1" cy="876.9" r="0.96"/><circle cx="322.1" cy="874.9" r="0.93"/><circle cx="324.3" cy="873.2" r="0.91"/><circle cx="326.7" cy="871.8" r="0.89"/><circle cx="329.3" cy="870.6" r="0.86"/><circle cx="331.9" cy="869.8" r="0.84"/><circle cx="334.7" cy="869.3" r="0.81"/><circle cx="337.5" cy="869.1" r="0.79"/><circle cx="340.3" cy="869.3" r="0.77"/><circle cx="343.1" cy="869.8" r="0.74"/><circle cx="345.7" cy="870.6" r="0.72"/><circle cx="348.3" cy="871.8" r="0.70"/><circle cx="350.7" cy="873.2" r="0.67"/><circle cx="352.9" cy="874.9" r="0.65"/><circle cx="354.9" cy="876.9" r="0.62"/><circle cx="311.6" cy="892.3" r="1.10"/><circle cx="311.8" cy="889.5" r="1.08"/><circle cx="312.2" cy="886.7" r="1.06"/><circle cx="313.0" cy="884.0" r="1.04"/><circle cx="314.0" cy="881.4" r="1.01"/><circle cx="315.3" cy="878.9" r="0.99"/><circle cx="316.9" cy="876.6" r="0.97"/><circle cx="318.7" cy="874.5" r="0.95"/><circle cx="320.7" cy="872.6" r="0.93"/><circle cx="323.0" cy="870.9" r="0.91"/><circle cx="325.4" cy="869.4" r="0.89"/><circle cx="327.9" cy="868.2" r="0.87"/><circle cx="330.6" cy="867.3" r="0.84"/><circle cx="333.3" cy="866.7" r="0.82"/><circle cx="336.1" cy="866.4" r="0.80"/><circle cx="338.9" cy="866.4" r="0.78"/><circle cx="341.7" cy="866.7" r="0.76"/><circle cx="344.4" cy="867.3" r="0.74"/><circle cx="347.1" cy="868.2" r="0.72"/><circle cx="349.6" cy="869.4" r="0.69"/><circle cx="352.0" cy="870.9" r="0.67"/><circle cx="354.3" cy="872.6" r="0.65"/><circle cx="356.3" cy="874.5" r="0.63"/><circle cx="308.9" cy="892.3" r="1.10"/><circle cx="309.0" cy="889.5" r="1.08"/><circle cx="309.4" cy="886.7" r="1.06"/><circle cx="310.1" cy="884.0" r="1.04"/><circle cx="311.1" cy="881.4" r="1.02"/><circle cx="312.3" cy="878.8" r="1.00"/><circle cx="313.7" cy="876.4" r="0.98"/><circle cx="315.4" cy="874.2" r="0.96"/><circle cx="317.3" cy="872.1" r="0.95"/><circle cx="319.4" cy="870.2" r="0.93"/><circle cx="321.6" cy="868.5" r="0.91"/><circle cx="324.0" cy="867.1" r="0.89"/><circle cx="326.6" cy="865.9" r="0.87"/><circle cx="329.2" cy="864.9" r="0.85"/><circle cx="331.9" cy="864.2" r="0.83"/><circle cx="334.7" cy="863.8" r="0.81"/><circle cx="337.5" cy="863.7" r="0.79"/><circle cx="340.3" cy="863.8" r="0.77"/><circle cx="343.1" cy="864.2" r="0.75"/><circle cx="345.8" cy="864.9" r="0.73"/><circle cx="348.4" cy="865.9" r="0.71"/><circle cx="351.0" cy="867.1" r="0.69"/><circle cx="353.4" cy="868.5" r="0.67"/><circle cx="355.6" cy="870.2" r="0.66"/><circle cx="357.7" cy="872.1" r="0.64"/><circle cx="359.6" cy="874.2" r="0.62"/></g>
<path d="M307.1,893.3 A30.4,30.4 0 0 0 367.9,893.3 L357.1,893.3 A19.6,19.6 0 0 1 317.9,893.3 Z" fill="#2b3f92"/>
<path d="M321.2,893.9 A16.2,16.2 0 0 0 354.1,891.8 C354.5,887.3 352.5,884.3 349.8,882.0999999999999 C344.0,886.3 339.5,892.3 338.2,903.5999999999999 C334.5,898.3 328.5,894.5 321.2,893.9Z" fill="#2fae8e"/>
<clipPath id="efLo"><path d="M360,880H400V891.5H425V880H490V930H360Z"/></clipPath><clipPath id="efHi"><rect x="402.5" y="860" width="23" height="17.6"/></clipPath><rect x="405.75" y="877" width="7.5" height="15.5" fill="#2b3f92"/>
<text x="370" y="922.6" font-size="57" font-weight="bold" fill="#2b3f92" textLength="111.5" lengthAdjust="spacingAndGlyphs" clip-path="url(#efLo)">efsa</text>
<text x="370" y="908.6" font-size="57" font-weight="bold" fill="#2b3f92" textLength="111.5" lengthAdjust="spacingAndGlyphs" clip-path="url(#efHi)">efsa</text>
<rect x="490.2" y="893.3" width="44.2" height="29.4" fill="#2b3f92"/>
<circle cx="512.3" cy="898.7" r="1.15" fill="#e8eaf5"/>
<circle cx="516.9" cy="899.9" r="1.15" fill="#e8eaf5"/>
<circle cx="520.4" cy="903.4" r="1.15" fill="#e8eaf5"/>
<circle cx="521.6" cy="908.0" r="1.15" fill="#e8eaf5"/>
<circle cx="520.4" cy="912.6" r="1.15" fill="#e8eaf5"/>
<circle cx="516.9" cy="916.1" r="1.15" fill="#e8eaf5"/>
<circle cx="512.3" cy="917.3" r="1.15" fill="#e8eaf5"/>
<circle cx="507.6" cy="916.1" r="1.15" fill="#e8eaf5"/>
<circle cx="504.2" cy="912.6" r="1.15" fill="#e8eaf5"/>
<circle cx="503.0" cy="908.0" r="1.15" fill="#e8eaf5"/>
<circle cx="504.2" cy="903.4" r="1.15" fill="#e8eaf5"/>
<circle cx="507.6" cy="899.9" r="1.15" fill="#e8eaf5"/>
<text x="307.2" y="940.1" font-size="13.5" fill="#2d4a9b" stroke="#2d4a9b" stroke-width="0.5" textLength="227" lengthAdjust="spacingAndGlyphs">EUROPEAN FOOD SAFETY AUTHORITY</text>
<circle cx="656.6" cy="911.8" r="48" fill="#1e5775"/>
<circle cx="656.6" cy="911.8" r="46.2" fill="#fff"/>
<circle cx="656.6" cy="911.8" r="43.8" fill="#1e5775"/>
<circle cx="656.6" cy="911.8" r="30.6" fill="#fff"/>
<circle cx="656.6" cy="911.8" r="26.7" fill="none" stroke="#1e5775" stroke-width="1.8"/>
<path id="fdaTop" d="M623.0,911.8 A33.6,33.6 0 0 1 690.2,911.8" fill="none"/>
<path id="fdaBot" d="M615.7,911.8 A40.9,40.9 0 0 0 697.5,911.8" fill="none"/>
<text font-size="10" font-weight="bold" fill="#fff" text-anchor="middle" letter-spacing="1.05"><textPath href="#fdaTop" startOffset="50%">FDA APPROVED</textPath></text>
<text font-size="10" font-weight="bold" fill="#fff" text-anchor="middle" letter-spacing="2.3"><textPath href="#fdaBot" startOffset="50%">FDA APPROVED</textPath></text>
<polygon points="619.30,910.30 619.82,911.89 621.49,911.89 620.14,912.87 620.65,914.46 619.30,913.48 617.95,914.46 618.46,912.87 617.11,911.89 618.78,911.89" fill="#fff"/>
<polygon points="693.90,910.30 694.42,911.89 696.09,911.89 694.74,912.87 695.25,914.46 693.90,913.48 692.55,914.46 693.06,912.87 691.71,911.89 693.38,911.89" fill="#fff"/>
<text x="635.6" y="917.6" font-size="25.3" font-weight="bold" fill="#1e5775" textLength="43" lengthAdjust="spacingAndGlyphs" stroke="#1e5775" stroke-width="0.5">FDA</text>
<text x="637.4" y="925.7" font-size="6.6" font-weight="bold" fill="#1e5775" textLength="39.6" lengthAdjust="spacingAndGlyphs">APPROVED</text>
<clipPath id="fsClip"><path d="M755,850H903.5V960H755Z M903.5,894H945V960H903.5Z"/></clipPath>
<text fill="#1c1c8c" style="font-family:'Liberation Serif',serif;font-style:italic" clip-path="url(#fsClip)"><tspan x="773.5" y="933" font-size="93" textLength="34" lengthAdjust="spacingAndGlyphs">f</tspan><tspan x="800.3" y="941" font-size="82" textLength="27.5" lengthAdjust="spacingAndGlyphs" stroke="#1c1c8c" stroke-width="0.6">s</tspan><tspan x="827.3" y="941" font-size="82" textLength="27.5" lengthAdjust="spacingAndGlyphs" stroke="#1c1c8c" stroke-width="0.6">s</tspan><tspan x="859.5" y="941" font-size="82" textLength="48.5" lengthAdjust="spacingAndGlyphs" stroke="#1c1c8c" stroke-width="0.6">a</tspan><tspan x="904.5" y="947" font-size="106" fill="#f2803a" textLength="31.5" lengthAdjust="spacingAndGlyphs">i</tspan></text>
<rect x="795" y="889.8" width="140" height="3.6" fill="#f2803a"/>
<rect x="786" y="889.8" width="10" height="3.6" fill="#1c1c8c"/>
<rect x="777" y="950.6" width="146" height="3.4" fill="#138a13"/>
<rect x="861.9" y="862.9" width="22.4" height="22.4" fill="#fff" stroke="#138a13" stroke-width="1.2"/>
<circle cx="873.1" cy="874.1" r="6.7" fill="#138a13"/>
<path d="M915.5,886 C917,876 922,868 929,863.6 C929.5,873 925,882 915.5,886Z" fill="#138a13"/>
<ellipse cx="912.5" cy="884" rx="3" ry="3.4" fill="#8a4a1c"/>
<text x="775.6" y="971" font-size="13.6" fill="#111" stroke="#111" stroke-width="0.25" textLength="146.8" lengthAdjust="spacingAndGlyphs">Lic.No.11522998001623</text>
</svg>
</body></html>
